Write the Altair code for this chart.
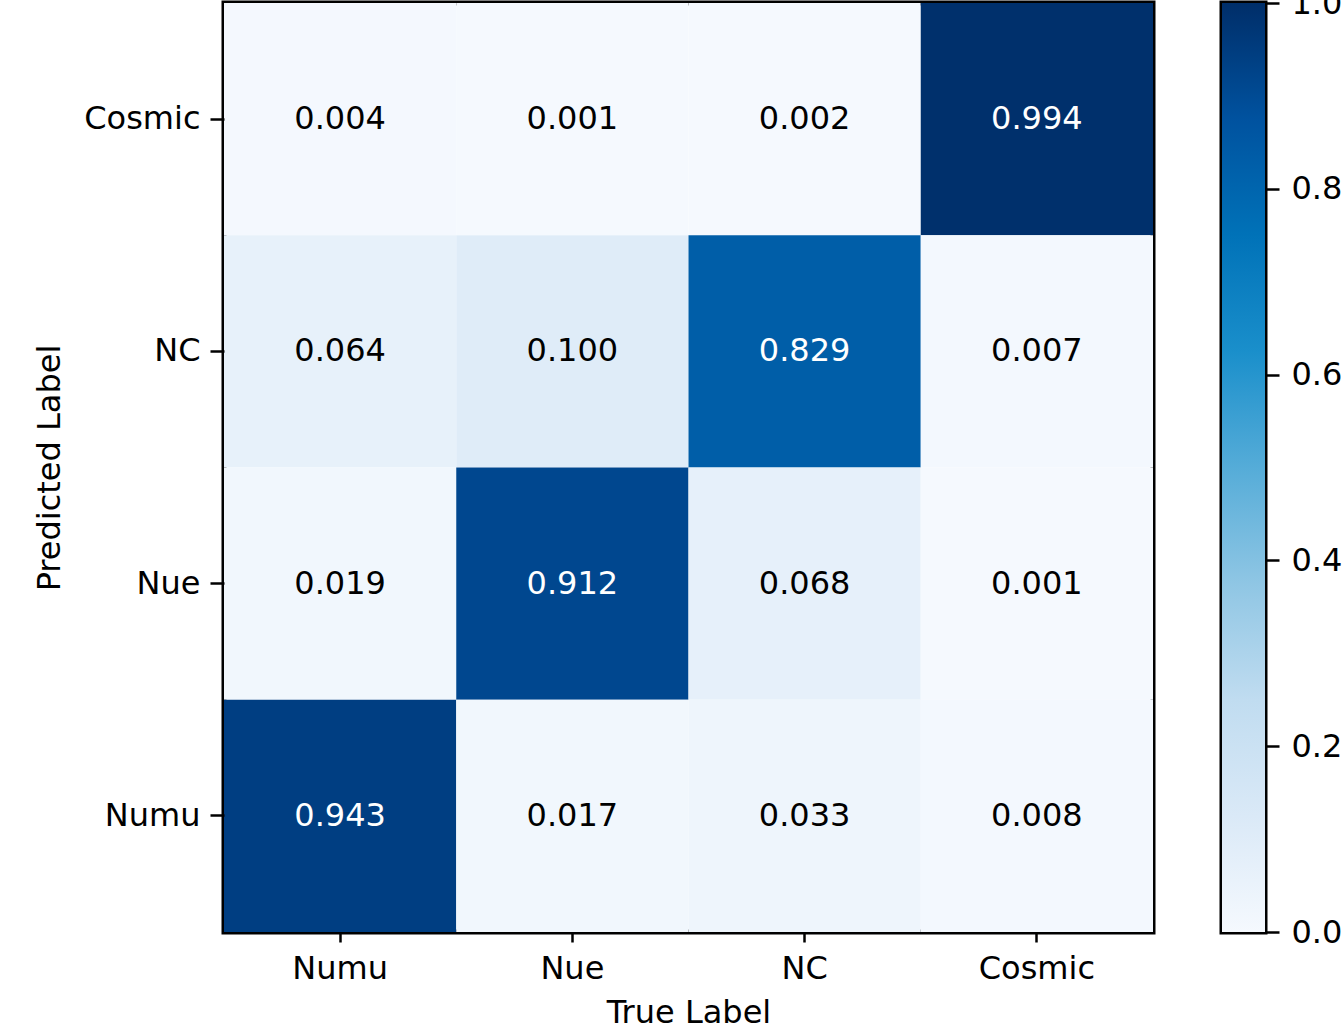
import altair as alt
import pandas as pd

# Class names: columns are the true class, rows the predicted class (top to bottom)
true_labels = ["Numu", "Nue", "NC", "Cosmic"]
pred_labels = ["Cosmic", "NC", "Nue", "Numu"]

# Row-normalised fractions, one list per predicted class, in true_labels order
row_cosmic = [0.004, 0.001, 0.002, 0.994]
row_nc = [0.064, 0.100, 0.829, 0.007]
row_nue = [0.019, 0.912, 0.068, 0.001]
row_numu = [0.943, 0.017, 0.033, 0.008]

# Colourbar ticks
cbar_ticks = [0.0, 0.2, 0.4, 0.6, 0.8, 1.0]

# Sequential blue colormap stops (light to dark)
blues_pos = [0.0, 0.125, 0.25, 0.375, 0.5, 0.625, 0.75, 0.875, 1.0]
blues_hex = ["#f5f9fe", "#dae9f7", "#c0dcf0", "#8fc6e4", "#55acd8",
             "#1a8fcb", "#0072b8", "#00529f", "#002e69"]

rows = {"Cosmic": row_cosmic, "NC": row_nc, "Nue": row_nue, "Numu": row_numu}
records = []
for pred, vals in rows.items():
    for true, v in zip(true_labels, vals):
        records.append({"pred": pred, "true": true, "value": v})
df = pd.DataFrame(records)

FONT = "DejaVu Sans"
FS = 32

color_scale = alt.Scale(domain=blues_pos, range=blues_hex, interpolate="rgb")

x_enc = alt.X(
    "true:N", sort=true_labels, title="True Label",
    scale=alt.Scale(paddingInner=0, paddingOuter=0),
    axis=alt.Axis(labelAngle=0, tickSize=10, labelPadding=11, titlePadding=13,
                  domain=False, grid=False),
)
y_enc = alt.Y(
    "pred:N", sort=pred_labels, title="Predicted Label",
    scale=alt.Scale(paddingInner=0, paddingOuter=0),
    axis=alt.Axis(tickSize=14, labelPadding=10, titlePadding=17,
                  domain=False, grid=False),
)

base = alt.Chart(df).encode(x=x_enc, y=y_enc)

cells = base.mark_rect(strokeWidth=0).encode(
    color=alt.Color("value:Q", scale=color_scale, legend=None)
)

labels = base.mark_text(font=FONT, fontSize=FS).encode(
    text=alt.Text("value:Q", format=".3f"),
    color=alt.condition("datum.value > 0.5", alt.value("white"), alt.value("black")),
)

matrix = (cells + labels).properties(width=929, height=929)

# Colourbar: a single rect spanning 0..1 filled with the colormap gradient
cbar_df = pd.DataFrame({"lo": [0.0], "hi": [1.0]})
grad = alt.Gradient(
    gradient="linear",
    stops=[alt.GradientStop(offset=p, color=c) for p, c in zip(blues_pos, blues_hex)],
    x1=0, x2=0, y1=1, y2=0,
)
colorbar = alt.Chart(cbar_df).mark_rect(color=grad, strokeWidth=0).encode(
    x=alt.value(0), x2=alt.value(43),
    y=alt.Y("lo:Q", scale=alt.Scale(domain=[0, 1], nice=False, zero=False),
            axis=alt.Axis(orient="right", values=cbar_ticks, format=".1f",
                          tickSize=14, labelPadding=12, title=None,
                          domain=False, grid=False)),
    y2="hi:Q",
).properties(width=43, height=929)

chart = alt.hconcat(matrix, colorbar, spacing=69, bounds="flush").properties(
    autosize=alt.AutoSizeParams(type="none"),
    padding={"left": 224, "top": 3, "right": 1119, "bottom": 1023},
    background="white",
).configure_view(
    stroke="black", strokeWidth=5
).configure_axis(
    labelFont=FONT, labelFontSize=FS, labelColor="black",
    titleFont=FONT, titleFontSize=FS, titleColor="black", titleFontWeight="normal",
    tickColor="black", tickWidth=2.5,
)

chart.save("out.html", embed_options={"renderer": "svg", "actions": False})
